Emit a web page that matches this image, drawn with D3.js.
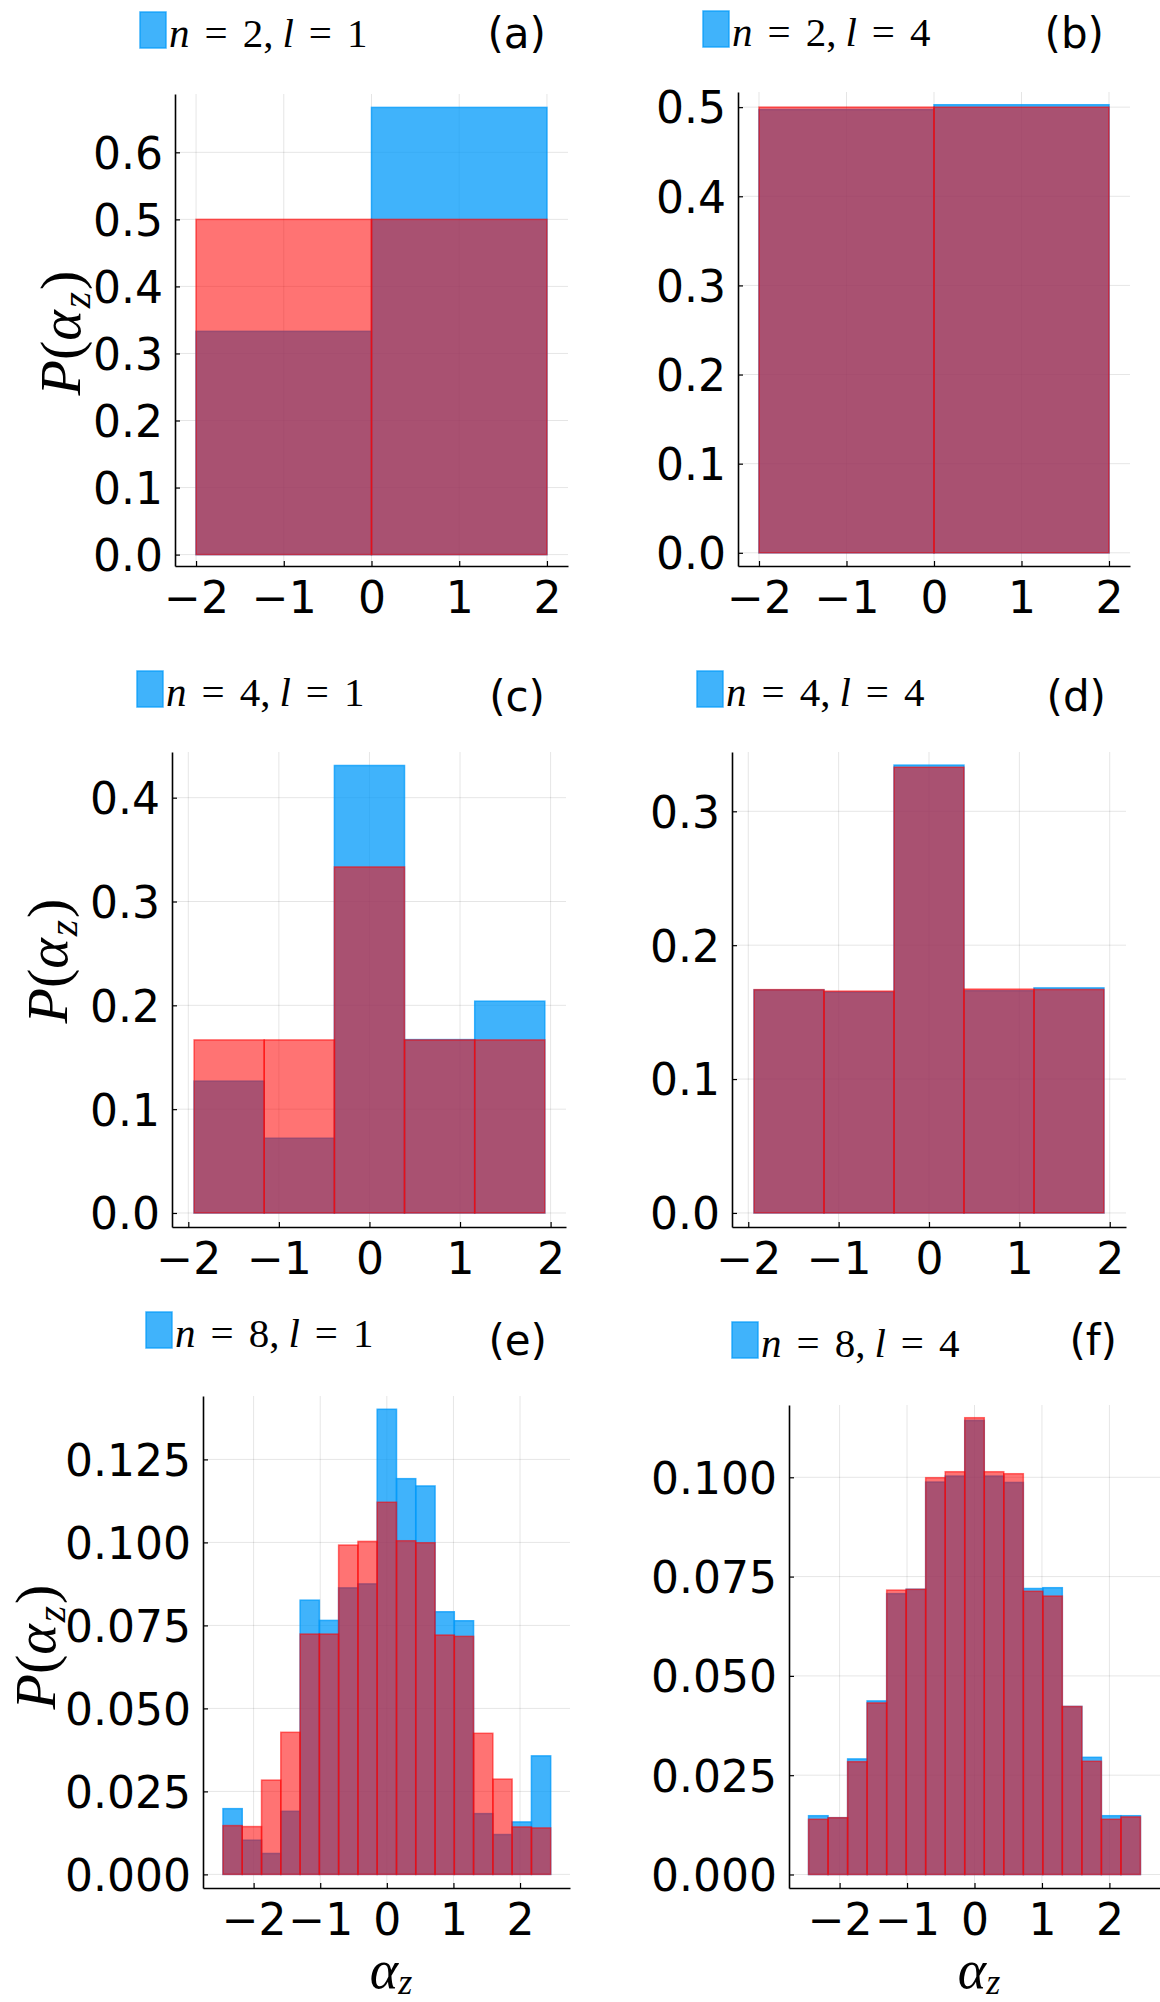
<!DOCTYPE html>
<html>
<head>
<meta charset="utf-8">
<script src="https://cdn.jsdelivr.net/npm/d3@7"></script>
<style>
  body { margin: 0; background: #fff; }
</style>
</head>
<body>
<div id="chart"></div>
<script>
// tick values shared by all panels
const xTicks = [-2, -1, 0, 1, 2];

// bin edges
const edges2 = [-2, 0, 2];
const edges4 = [-1.936, -1.162, -0.387, 0.387, 1.162, 1.936];
const edges8 = [-2.460, -2.171, -1.881, -1.592, -1.302, -1.013, -0.724, -0.434, -0.145,
                0.145, 0.434, 0.724, 1.013, 1.302, 1.592, 1.881, 2.171, 2.460];

// (a) n=2, l=1
const blueA = [0.333, 0.667];
const redA = [0.500, 0.500];
// (b) n=2, l=4
const blueB = [0.4973, 0.5027];
const redB = [0.5000, 0.5000];
// (c) n=4, l=1
const blueC = [0.127, 0.072, 0.431, 0.167, 0.204];
const redC = [0.1667, 0.1667, 0.3333, 0.1667, 0.1667];
// (d) n=4, l=4
const blueD = [0.1666, 0.1650, 0.3345, 0.1660, 0.1681];
const redD = [0.1668, 0.1657, 0.3329, 0.1672, 0.1669];
// (e) n=8, l=1
const blueE = [0.0198, 0.0103, 0.0063, 0.0190, 0.0826, 0.0765, 0.0863, 0.0875, 0.1401,
               0.1192, 0.1170, 0.0791, 0.0764, 0.0183, 0.0120, 0.0158, 0.0357];
const redE = [0.0147, 0.0144, 0.0284, 0.0428, 0.0724, 0.0724, 0.0992, 0.1003, 0.1121,
              0.1005, 0.0999, 0.0721, 0.0717, 0.0425, 0.0287, 0.0143, 0.0140];
// (f) n=8, l=4
const blueF = [0.0148, 0.0143, 0.0291, 0.0437, 0.0707, 0.0718, 0.0988, 0.1003, 0.1143,
               0.1003, 0.0987, 0.0720, 0.0722, 0.0423, 0.0295, 0.0148, 0.0148];
const redF = [0.0139, 0.0143, 0.0284, 0.0432, 0.0716, 0.0718, 0.0999, 0.1014, 0.1150,
              0.1014, 0.1009, 0.0713, 0.0701, 0.0423, 0.0285, 0.0139, 0.0145];

// y tick values
const yTicksA = [0, 0.1, 0.2, 0.3, 0.4, 0.5, 0.6];
const yTicksB = [0, 0.1, 0.2, 0.3, 0.4, 0.5];
const yTicksC = [0, 0.1, 0.2, 0.3, 0.4];
const yTicksD = [0, 0.1, 0.2, 0.3];
const yTicksE = [0, 0.025, 0.05, 0.075, 0.1, 0.125];
const yTicksF = [0, 0.025, 0.05, 0.075, 0.1];

// legend values and panel tags
const nVals = [2, 2, 4, 4, 8, 8];
const lVals = [1, 4, 1, 4, 1, 4];
const tags = ["(a)", "(b)", "(c)", "(d)", "(e)", "(f)"];

// layout of each panel (pixels)
const panels = [
  { left: 175, right: 568, top: 94, bottom: 566, xd: [-2.24, 2.24], yd: [-0.017, 0.687],
    edges: edges2, blue: blueA, red: redA, yTicks: yTicksA, fmt: ".1f",
    legend: [140, 12], tag: [546, 48], ylab: [80, 333] },
  { left: 738, right: 1130, top: 92, bottom: 566, xd: [-2.24, 2.24], yd: [-0.0148, 0.517],
    edges: edges2, blue: blueB, red: redB, yTicks: yTicksB, fmt: ".1f",
    legend: [703, 11], tag: [1104, 48] },
  { left: 172, right: 566, top: 752, bottom: 1227, xd: [-2.18, 2.17], yd: [-0.0135, 0.444],
    edges: edges4, blue: blueC, red: redC, yTicks: yTicksC, fmt: ".1f",
    legend: [137, 671], tag: [545, 711], ylab: [67, 961] },
  { left: 732, right: 1126, top: 752, bottom: 1227, xd: [-2.18, 2.18], yd: [-0.0105, 0.3443],
    edges: edges4, blue: blueD, red: redD, yTicks: yTicksD, fmt: ".1f",
    legend: [697, 671], tag: [1106, 711] },
  { left: 203, right: 570, top: 1396, bottom: 1888, xd: [-2.76, 2.75], yd: [-0.0041, 0.1441],
    edges: edges8, blue: blueE, red: redE, yTicks: yTicksE, fmt: ".3f",
    legend: [146, 1312], tag: [547, 1355], ylab: [55, 1647], xlab: [391, 1988] },
  { left: 789, right: 1160, top: 1405, bottom: 1888, xd: [-2.75, 2.75], yd: [-0.0034, 0.1182],
    edges: edges8, blue: blueF, red: redF, yTicks: yTicksF, fmt: ".3f",
    legend: [732, 1322], tag: [1117, 1355], xlab: [979, 1988] }
];

const BLUE = "#009AFA";
const RED = "#FF0000";
const SANS = "DejaVu Sans";
const SERIF = "Liberation Serif";

const svg = d3
  .select("#chart")
  .append("svg")
  .attr("width", 1160)
  .attr("height", 2002)
  .style("background", "#fff");

panels.forEach((p, i) => {
  const g = svg.append("g");
  const x = d3.scaleLinear().domain(p.xd).range([p.left, p.right]);
  const y = d3.scaleLinear().domain(p.yd).range([p.bottom, p.top]);

  // grid
  g.selectAll(".gx")
    .data(xTicks)
    .join("line")
    .attr("x1", (d) => x(d))
    .attr("x2", (d) => x(d))
    .attr("y1", p.bottom)
    .attr("y2", p.top)
    .attr("stroke", "#000")
    .attr("stroke-opacity", 0.1)
    .attr("stroke-width", 1);
  g.selectAll(".gy")
    .data(p.yTicks)
    .join("line")
    .attr("x1", p.left)
    .attr("x2", p.right)
    .attr("y1", (d) => y(d))
    .attr("y2", (d) => y(d))
    .attr("stroke", "#000")
    .attr("stroke-opacity", 0.1)
    .attr("stroke-width", 1);

  // histogram bars: blue first, red on top
  const series = [
    { vals: p.blue, color: BLUE, op: 0.75 },
    { vals: p.red, color: RED, op: 0.55 }
  ];
  series.forEach((s) => {
    g.append("g")
      .selectAll("rect")
      .data(s.vals)
      .join("rect")
      .attr("x", (d, k) => x(p.edges[k]))
      .attr("width", (d, k) => x(p.edges[k + 1]) - x(p.edges[k]))
      .attr("y", (d) => y(d))
      .attr("height", (d) => y(0) - y(d))
      .attr("fill", s.color)
      .attr("fill-opacity", s.op)
      .attr("stroke", s.color)
      .attr("stroke-opacity", s.op)
      .attr("stroke-width", 1.5);
  });

  // axes
  const xAxis = g
    .append("g")
    .attr("transform", `translate(0,${p.bottom})`)
    .call(d3.axisBottom(x).tickValues(xTicks).tickFormat(d3.format("d"))
      .tickSize(-5).tickSizeOuter(0).tickPadding(16));
  const yAxis = g
    .append("g")
    .attr("transform", `translate(${p.left},0)`)
    .call(d3.axisLeft(y).tickValues(p.yTicks).tickFormat(d3.format(p.fmt))
      .tickSize(-5).tickSizeOuter(0).tickPadding(12));
  [xAxis, yAxis].forEach((a) => {
    a.attr("font-family", SANS).attr("font-size", 44);
    a.select(".domain").attr("stroke", "#000").attr("stroke-width", 1.6);
    a.selectAll(".tick line").attr("stroke", "#000").attr("stroke-width", 1.2);
    a.selectAll(".tick text").attr("fill", "#000");
  });
  yAxis.selectAll(".tick text").attr("dy", "0.36em");

  // legend (blue series only)
  const [lx, ly] = p.legend;
  g.append("rect")
    .attr("x", lx)
    .attr("y", ly)
    .attr("width", 26)
    .attr("height", 36)
    .attr("fill", BLUE)
    .attr("fill-opacity", 0.75)
    .attr("stroke", BLUE)
    .attr("stroke-opacity", 0.75)
    .attr("stroke-width", 1.5);
  const lt = g
    .append("text")
    .attr("x", lx + 29)
    .attr("y", ly + 35)
    .attr("font-family", SERIF)
    .attr("font-size", 41)
    .attr("fill", "#000");
  lt.append("tspan").attr("font-style", "italic").text("n");
  lt.append("tspan").attr("dx", 15).text("=");
  lt.append("tspan").attr("dx", 15).text(`${nVals[i]},`);
  lt.append("tspan").attr("dx", 9).attr("font-style", "italic").text("l");
  lt.append("tspan").attr("dx", 15).text("=");
  lt.append("tspan").attr("dx", 15).text(lVals[i]);

  // panel tag
  g.append("text")
    .attr("x", p.tag[0])
    .attr("y", p.tag[1])
    .attr("text-anchor", "end")
    .attr("font-family", SANS)
    .attr("font-size", 42)
    .attr("fill", "#000")
    .text(tags[i]);

  // y label P(alpha_z)
  if (p.ylab) {
    const t = g
      .append("text")
      .attr("transform", `translate(${p.ylab[0]},${p.ylab[1]}) rotate(-90)`)
      .attr("text-anchor", "middle")
      .attr("font-family", SERIF)
      .attr("font-size", 58)
      .attr("fill", "#000");
    t.append("tspan").attr("font-style", "italic").text("P");
    t.append("tspan").text("(");
    t.append("tspan").attr("font-style", "italic").text("α");
    t.append("tspan").attr("font-style", "italic").attr("font-size", 42)
      .attr("dx", 2).attr("dy", 10).text("z");
    t.append("tspan").attr("dx", 2).attr("dy", -10).text(")");
  }

  // x label alpha_z
  if (p.xlab) {
    const t = g
      .append("text")
      .attr("x", p.xlab[0])
      .attr("y", p.xlab[1])
      .attr("text-anchor", "middle")
      .attr("font-family", SERIF)
      .attr("font-size", 54)
      .attr("fill", "#000");
    t.append("tspan").attr("font-style", "italic").text("α");
    t.append("tspan").attr("font-style", "italic").attr("font-size", 36).attr("dy", 6).text("z");
  }
});
</script>
</body>
</html>
